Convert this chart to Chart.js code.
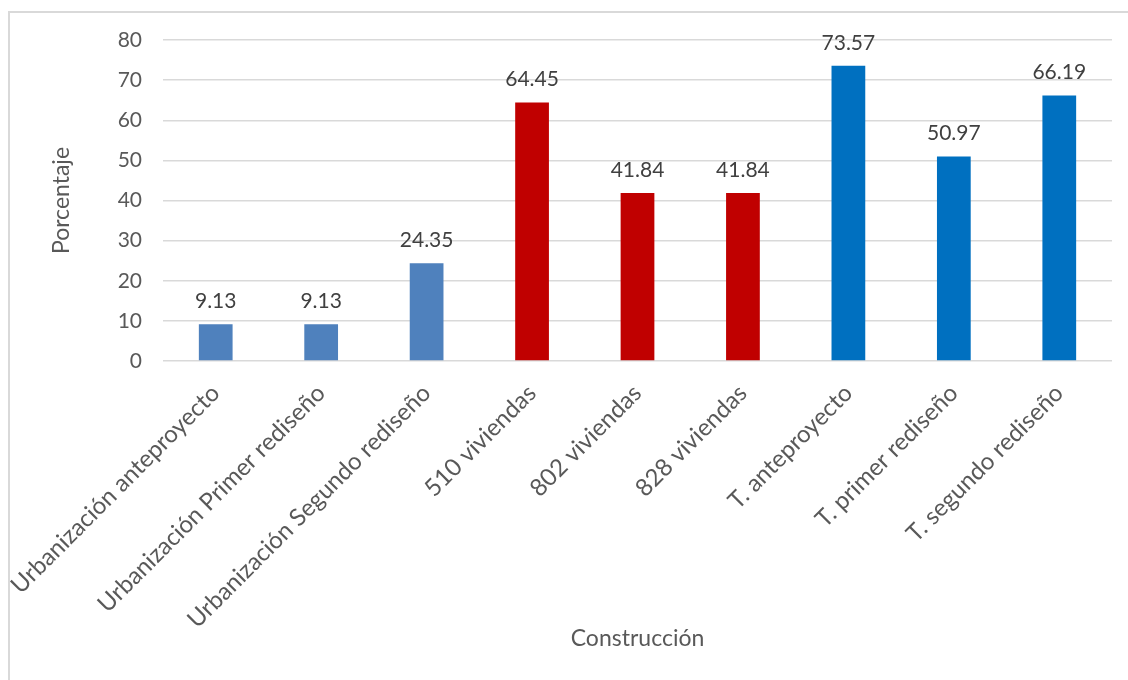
<!DOCTYPE html>
<html>
<head>
<meta charset="utf-8">
<script src="https://cdn.jsdelivr.net/npm/chart.js@4"></script>
<style>
  html, body { margin: 0; padding: 0; background: #fff; }
  #frame {
    position: absolute; left: 8px; top: 11px; width: 1200px; height: 800px;
    border: 2px solid #d9d9d9; box-sizing: border-box;
  }
  #wrap { position: absolute; left: 0; top: 0; width: 1128px; height: 680px; }
</style>
</head>
<body>
<div id="frame"></div>
<div id="wrap"><canvas id="chart" width="1128" height="680"></canvas></div>
<script>
const categories = [
  'Urbanización anteproyecto',
  'Urbanización Primer rediseño',
  'Urbanización Segundo rediseño',
  '510 viviendas',
  '802 viviendas',
  '828 viviendas',
  'T. anteproyecto',
  'T. primer rediseño',
  'T. segundo rediseño'
];
const values = [9.13, 9.13, 24.35, 64.45, 41.84, 41.84, 73.57, 50.97, 66.19];
const barColors = ['#4F81BD', '#4F81BD', '#4F81BD', '#C00000', '#C00000', '#C00000', '#0070C0', '#0070C0', '#0070C0'];
const yTicks = [0, 10, 20, 30, 40, 50, 60, 70, 80];

const FONT = 'Lato, Carlito, "Open Sans", sans-serif';

// value labels above each bar
const valueLabels = {
  id: 'valueLabels',
  afterDatasetsDraw(chart) {
    const ctx = chart.ctx;
    const meta = chart.getDatasetMeta(0);
    ctx.save();
    ctx.font = '21px ' + FONT;
    ctx.fillStyle = '#404040';
    ctx.textAlign = 'center';
    ctx.textBaseline = 'alphabetic';
    meta.data.forEach((bar, i) => {
      ctx.fillText(values[i].toFixed(2), bar.x, bar.y - 16);
    });
    ctx.restore();
  }
};

const chart = new Chart(document.getElementById('chart').getContext('2d'), {
  type: 'bar',
  data: {
    labels: categories,
    datasets: [{
      data: values,
      backgroundColor: barColors,
      categoryPercentage: 1,
      barPercentage: 0.32
    }]
  },
  options: {
    responsive: false,
    animation: false,
    layout: { padding: { left: 48, top: 40, right: 16, bottom: 28 } },
    plugins: { legend: { display: false }, tooltip: { enabled: false } },
    scales: {
      x: {
        grid: { display: false },
        border: { display: false },
        ticks: {
          color: '#595959',
          font: { family: FONT, size: 24 },
          minRotation: 45, maxRotation: 45,
          padding: 10
        },
        title: {
          display: true, text: 'Construcción', color: '#595959',
          font: { family: FONT, size: 23 }, padding: 0
        },
        afterFit(scale) {
          scale.height = 291;
          scale.paddingLeft = 0;
          scale.paddingRight = 0;
        }
      },
      y: {
        min: 0, max: 80,
        afterBuildTicks(scale) { scale.ticks = yTicks.map(v => ({ value: v })); },
        grid: { color: '#d9d9d9', lineWidth: 1.5, drawTicks: false },
        border: { display: false },
        ticks: {
          color: '#595959',
          font: { family: FONT, size: 21 },
          padding: 21
        },
        title: {
          display: true, text: 'Porcentaje', color: '#595959',
          font: { family: FONT, size: 23 }, padding: 0
        },
        afterFit(scale) { scale.width = 115; }
      }
    }
  },
  plugins: [valueLabels]
});
</script>
</body>
</html>
